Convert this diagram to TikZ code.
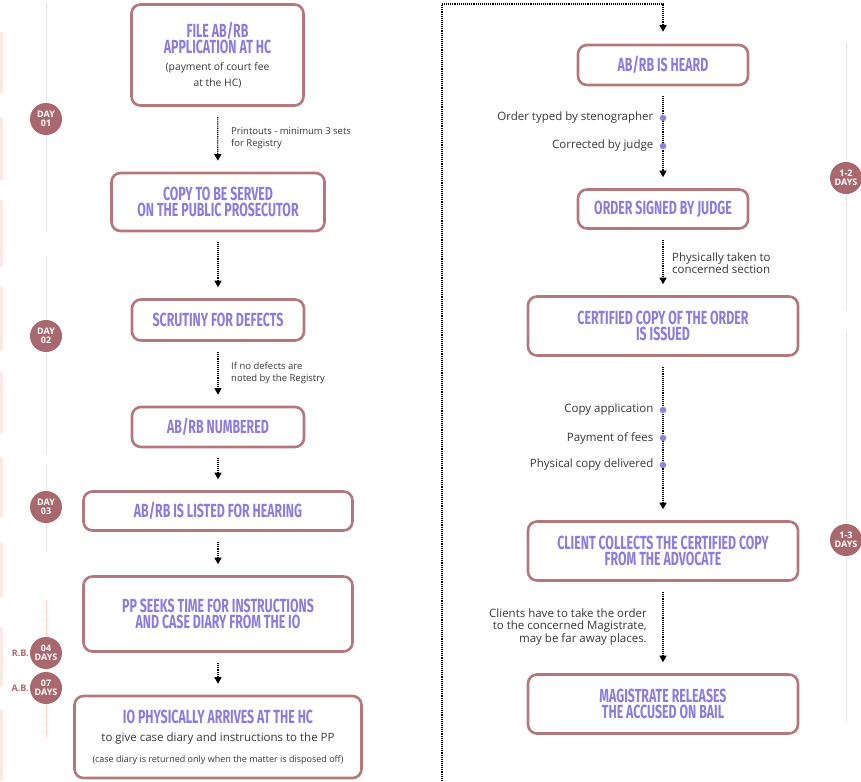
\documentclass[tikz,border=0pt]{standalone}
\usepackage{fontspec}
\setmainfont{Open Sans}
\newfontfamily\headfont[FakeStretch=0.65]{Fira Sans}
\usetikzlibrary{arrows.meta,positioning}
\definecolor{boxrose}{RGB}{180,120,124}
\definecolor{headlilac}{RGB}{140,124,222}
\definecolor{dayrose}{RGB}{168,104,110}
\definecolor{tlpink}{RGB}{247,196,180}
\definecolor{edgepink}{RGB}{251,234,228}
\definecolor{inkgrey}{RGB}{55,55,60}
\definecolor{dotlilac}{RGB}{146,130,222}
\newcommand{\notefont}{\fontsize{9.5}{12.5}\selectfont}
\newcommand{\widenotefont}{\fontsize{11.5}{12.5}\selectfont}
\newcommand{\notes}[2]{{\normalfont\color{inkgrey}\fontsize{#1}{12}\selectfont #2}}

\begin{document}
\begin{tikzpicture}[x=1pt,y=-1pt]
\useasboundingbox (0,0) rectangle (861,781);
\tikzstyle{stepbox}=[draw=boxrose,line width=2.6pt,rounded corners=9pt,fill=white,align=center,inner sep=2pt,text=headlilac,font=\headfont\bfseries\fontsize{19}{16.5}\selectfont]
\tikzstyle{flow}=[line width=1.2pt,dash pattern=on 1pt off 0.9pt,-{Triangle[width=7pt,length=6.5pt]},shorten <=10pt,shorten >=11pt]
\tikzstyle{daydot}=[circle,fill=dayrose,text=white,minimum size=32pt,inner sep=0pt,align=center,font=\bfseries\fontsize{9}{9}\selectfont]
\tikzstyle{notedot}=[circle,fill=dotlilac,minimum size=6.5pt,inner sep=0pt]
\tikzstyle{notetext}=[text=inkgrey,font=\notefont,inner sep=1pt]
\tikzstyle{widenote}=[text=inkgrey,font=\widenotefont,inner sep=1pt]
\tikzstyle{timeline}=[tlpink,line width=1pt,dash pattern=on 1pt off 1pt]
\tikzstyle{sidetag}=[text=dayrose,font=\bfseries\fontsize{9}{9}\selectfont,inner sep=1pt]

\foreach \a/\b in {32/93,117/180,200/267,287/350,372/433,457/517,543/597,627/687,710/781}
  \draw[edgepink,line width=3pt] (1.5,\a) -- (1.5,\b);
\foreach \a/\b in {3/233,257/455,465/553,600/738}
  \draw[timeline] (46,\a) -- (46,\b);
\foreach \a/\b in {43/310,333/723}
  \draw[timeline] (846,\a) -- (846,\b);

\node[daydot] (day1) at (46,119) {DAY\\01};
\node[daydot] (day2) at (46,336) {DAY\\02};
\node[daydot] (day3) at (46,507) {DAY\\03};
\node[daydot] (rbdays) at (46,653) {04\\DAYS};
\node[daydot] (abdays) at (46,688) {07\\DAYS};
\node[sidetag,left=0pt of rbdays] (rbtag) {R.B.};
\node[sidetag,left=0pt of abdays] (abtag) {A.B.};
\node[daydot] (days12) at (846,178) {1-2\\DAYS};
\node[daydot] (days13) at (846,540) {1-3\\DAYS};

\node[stepbox,minimum width=172pt,minimum height=101pt] (file) at (217.5,55) {FILE AB/RB\\APPLICATION AT HC\\[0pt]\notes{10.3}{(payment of court fee}\\\notes{10.3}{at the HC)}};
\node[stepbox,minimum width=213pt,minimum height=58pt] (serve) at (218,202) {COPY TO BE SERVED\\ON THE PUBLIC PROSECUTOR};
\node[stepbox,minimum width=172pt,minimum height=41pt] (scrutiny) at (218,320) {SCRUTINY FOR DEFECTS};
\node[stepbox,minimum width=172pt,minimum height=40pt] (numbered) at (218,427) {AB/RB NUMBERED};
\node[stepbox,minimum width=269pt,minimum height=39pt] (listed) at (218,511) {AB/RB IS LISTED FOR HEARING};
\node[stepbox,minimum width=269pt,minimum height=75pt] (seeks) at (218,614) {PP SEEKS TIME FOR INSTRUCTIONS\\AND CASE DIARY FROM THE IO};
\node[stepbox,minimum width=287pt,minimum height=82pt] (arrives) at (218,737) {IO PHYSICALLY ARRIVES AT THE HC\\[2pt]\notes{11.5}{to give case diary and instructions to the PP}\\[4pt]\notes{9}{(case diary is returned only when the matter is disposed off)}};

\node[stepbox,minimum width=170pt,minimum height=40pt] (heard) at (663,65) {AB/RB IS HEARD};
\node[stepbox,minimum width=170pt,minimum height=39pt] (signed) at (663,209) {ORDER SIGNED BY JUDGE};
\node[stepbox,minimum width=270pt,minimum height=59pt] (certified) at (663,326) {CERTIFIED COPY OF THE ORDER\\IS ISSUED};
\node[stepbox,minimum width=270pt,minimum height=59pt] (collects) at (663,551) {CLIENT COLLECTS THE CERTIFIED COPY\\FROM THE ADVOCATE};
\node[stepbox,minimum width=270pt,minimum height=59pt] (releases) at (663,704) {MAGISTRATE RELEASES\\THE ACCUSED ON BAIL};

\draw[flow] (file) -- (serve);
\draw[flow] (serve) -- (scrutiny);
\draw[flow] (scrutiny) -- (numbered);
\draw[flow] (numbered) -- (listed);
\draw[flow] (listed) -- (seeks);
\draw[flow] (seeks) -- (arrives);
\draw[flow] (heard) -- (signed);
\draw[flow] (signed) -- (certified);
\draw[flow] (certified) -- (collects);
\draw[flow] (collects) -- (releases);

\coordinate (sepfoot) at (442,781);
\coordinate (sepbend) at (442,4);
\draw[line width=1.2pt,dash pattern=on 1pt off 0.9pt,-{Triangle[width=7pt,length=6.5pt]},shorten >=12pt] (sepfoot) -- (sepbend) -| (heard);

\node[notetext,anchor=west,align=left] (printtxt) at (230,138) {Printouts - minimum 3 sets\\for Registry};
\node[notetext,anchor=west,align=left] (defecttxt) at (230,373) {If no defects are\\noted by the Registry};
\node[widenote,anchor=west,align=left] (takentxt) at (671,263) {Physically taken to\\concerned section};
\node[widenote,anchor=east,align=right] (clienttxt) at (648,627) {Clients have to take the order\\to the concerned Magistrate,\\may be far away places.};

\node[notedot] (typed) at (663,118) {};
\node[notedot] (corrected) at (663,146) {};
\node[widenote,left=5pt of typed] (typedtxt) {Order typed by stenographer};
\node[widenote,left=5pt of corrected] (correctedtxt) {Corrected by judge};
\node[notedot] (copyapp) at (663,410) {};
\node[notedot] (payfees) at (663,438) {};
\node[notedot] (delivered) at (663,465) {};
\node[widenote,left=5pt of copyapp] (copyapptxt) {Copy application};
\node[widenote,left=5pt of payfees] (payfeestxt) {Payment of fees};
\node[widenote,left=5pt of delivered] (deliveredtxt) {Physical copy delivered};
\end{tikzpicture}
\end{document}
